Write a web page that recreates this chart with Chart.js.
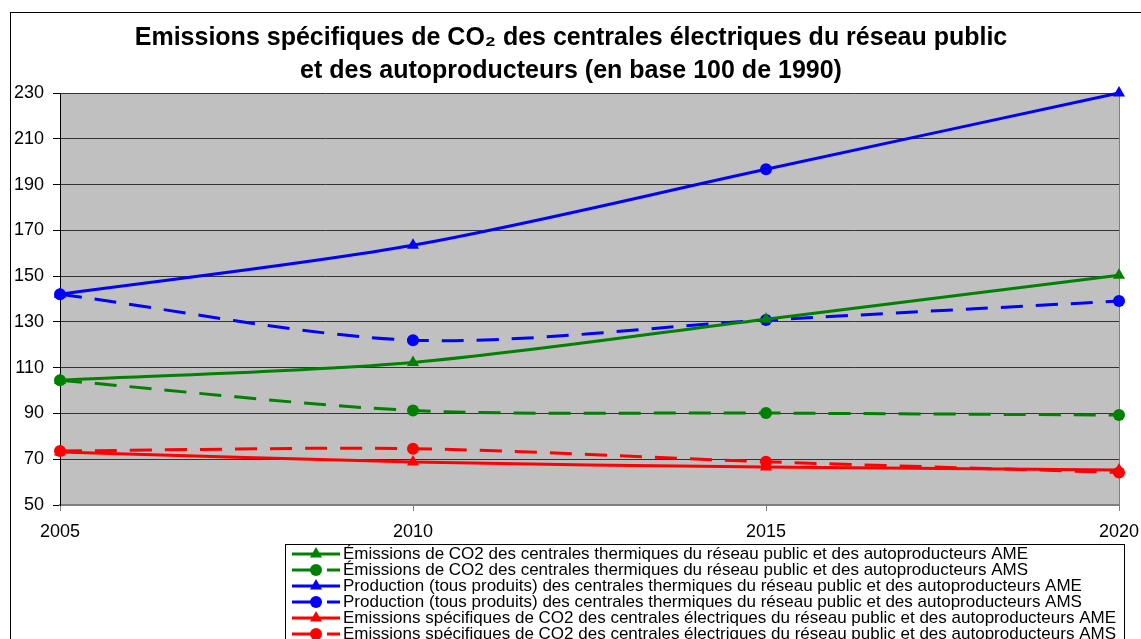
<!DOCTYPE html>
<html><head><meta charset="utf-8">
<script src="https://cdn.jsdelivr.net/npm/chart.js@4.4.0/dist/chart.umd.min.js"></script>
<style>html,body{margin:0;padding:0;background:#fff;}#wrap{width:1141px;height:639px;position:relative;}</style>
</head><body><div id="wrap"><canvas id="c" width="1141" height="639"></canvas></div>
<script>
const years = ['2005', '2010', '2015', '2020'];
const yMin = 50, yMax = 230, yStep = 20;
const titleLines = ['Emissions spécifiques de CO₂ des centrales électriques du réseau public', 'et des autoproducteurs (en base 100 de 1990)'];
const co2ThermAME = [104.5, 112.3, 131.2, 150.4];
const co2ThermAMS = [104.5, 91.3, 90.2, 89.3];
const prodAME = [142.1, 163.5, 196.7, 230];
const prodAMS = [142.1, 122.0, 130.8, 139.1];
const specAME = [73.2, 68.8, 66.6, 65.3];
const specAMS = [73.6, 74.6, 68.9, 64.2];
const seriesLabels = [
  'Émissions de CO2 des centrales thermiques du réseau public et des autoproducteurs AME',
  'Émissions de CO2 des centrales thermiques du réseau public et des autoproducteurs AMS',
  'Production (tous produits) des centrales thermiques du réseau public et des autoproducteurs AME',
  'Production (tous produits) des centrales thermiques du réseau public et des autoproducteurs AMS',
  'Emissions spécifiques de CO2 des centrales électriques du réseau public et des autoproducteurs AME',
  'Emissions spécifiques de CO2 des centrales électriques du réseau public et des autoproducteurs AMS'
];

const FONT = 'Arial, "Liberation Sans", sans-serif';
const DASH = [22, 13];

function radiusFor(style) {
  return Array.isArray(style) ? style.map(s => s === 'triangle' ? 7 : 6) : (style === 'triangle' ? 7 : 6);
}
function ds(label, data, color, dashed, style) {
  return {
    label, data,
    borderColor: color, backgroundColor: color,
    borderWidth: 3,
    borderDash: dashed ? DASH : [],
    pointStyle: style,
    pointRadius: radiusFor(style),
    pointBorderWidth: 0,
    tension: 0.3,
    clip: false,
    fill: false
  };
}

const datasets = [
  ds(seriesLabels[0], co2ThermAME, '#008000', false, 'triangle'),
  ds(seriesLabels[1], co2ThermAMS, '#008000', true, 'circle'),
  ds(seriesLabels[2], prodAME, '#0000FF', false, ['triangle', 'triangle', 'circle', 'triangle']),
  ds(seriesLabels[3], prodAMS, '#0000FF', true, 'circle'),
  ds(seriesLabels[4], specAME, '#FF0000', false, 'triangle'),
  ds(seriesLabels[5], specAMS, '#FF0000', true, 'circle')
];

const framePlugin = {
  id: 'frame',
  beforeDraw(chart) {
    const ctx = chart.ctx, a = chart.chartArea;
    ctx.save();
    ctx.fillStyle = '#fff';
    ctx.fillRect(0, 0, chart.width, chart.height);
    ctx.strokeStyle = '#000';
    ctx.lineWidth = 1;
    ctx.strokeRect(10.5, 12.5, chart.width + 10, chart.height + 10);
    ctx.fillStyle = '#C0C0C0';
    ctx.fillRect(a.left, a.top, a.right - a.left, a.bottom - a.top);
    ctx.strokeStyle = '#808080';
    ctx.beginPath();
    ctx.moveTo(a.right + 0.5, a.top);
    ctx.lineTo(a.right + 0.5, a.bottom);
    ctx.stroke();
    // title
    ctx.fillStyle = '#000';
    ctx.font = 'bold 25px ' + FONT;
    ctx.textAlign = 'center';
    ctx.textBaseline = 'middle';
    titleLines.forEach((t, i) => ctx.fillText(t, 571, 38 + i * 33));
    ctx.restore();
  }
};

const legendPlugin = {
  id: 'customLegend',
  afterDraw(chart) {
    const ctx = chart.ctx;
    ctx.save();
    const bx = 285.5, by = 544.5;
    ctx.strokeStyle = '#000';
    ctx.lineWidth = 1;
    ctx.strokeRect(bx, by, 839, 200);
    chart.data.datasets.forEach((d, i) => {
      const y = 554 + i * 16;
      ctx.strokeStyle = d.borderColor;
      ctx.lineWidth = 3;
      ctx.setLineDash(d.borderDash || []);
      ctx.beginPath();
      ctx.moveTo(292, y);
      ctx.lineTo(340, y);
      ctx.stroke();
      ctx.setLineDash([]);
      const st = Array.isArray(d.pointStyle) ? d.pointStyle[0] : d.pointStyle;
      ctx.fillStyle = d.borderColor;
      ctx.beginPath();
      if (st === 'triangle') {
        const r = 7;
        ctx.moveTo(316, y - r);
        ctx.lineTo(316 + r * 0.866, y + r * 0.5);
        ctx.lineTo(316 - r * 0.866, y + r * 0.5);
        ctx.closePath();
      } else {
        ctx.arc(316, y, 6, 0, Math.PI * 2);
      }
      ctx.fill();
      ctx.fillStyle = '#000';
      ctx.font = '17px ' + FONT;
      ctx.textBaseline = 'middle';
      ctx.textAlign = 'left';
      ctx.fillText(d.label, 343, y);
    });
    ctx.restore();
  }
};

new Chart(document.getElementById('c'), {
  type: 'line',
  data: { labels: years, datasets },
  plugins: [framePlugin, legendPlugin],
  options: {
    responsive: false,
    animation: false,
    layout: { padding: { top: 93, left: 0, right: 22, bottom: 100 } },
    plugins: {
      legend: { display: false },
      tooltip: { enabled: false },
      title: { display: false }
    },
    scales: {
      x: {
        type: 'category',
        offset: false,
        afterFit: s => { s.height = 34; s.paddingLeft = 0; s.paddingRight = 0; },
        grid: { display: true, drawOnChartArea: false, drawTicks: true, tickLength: 6, tickColor: '#808080' },
        border: { display: true, color: '#808080', width: 2 },
        ticks: { color: '#000', font: { size: 18, family: FONT }, padding: 10, maxRotation: 0 }
      },
      y: {
        min: yMin, max: yMax,
        afterFit: s => { s.width = 60; s.paddingTop = 0; s.paddingBottom = 0; },
        ticks: { stepSize: yStep, color: '#000', font: { size: 18, family: FONT }, padding: 9 },
        grid: { color: '#333', lineWidth: 1, drawTicks: true, tickLength: 7, tickColor: '#000' },
        border: { display: true, color: '#000', width: 1 }
      }
    }
  }
});
</script>
</body></html>
